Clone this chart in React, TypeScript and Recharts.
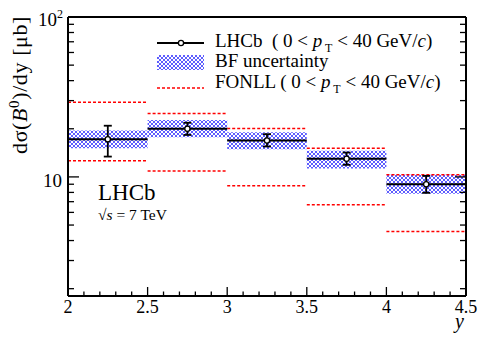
import React from "react";
import {
  ComposedChart,
  XAxis,
  YAxis,
  Scatter,
  ErrorBar,
  ReferenceLine,
  ReferenceArea,
} from "recharts";

// rapidity bins
const binLo = [2, 2.5, 3, 3.5, 4];
const binHi = [2.5, 3, 3.5, 4, 4.5];
const binMid = [2.25, 2.75, 3.25, 3.75, 4.25];

// LHCb measurement, total uncertainty range, BF uncertainty band, FONLL band (μb)
const lhcb = [17.2, 20.0, 16.9, 13.0, 9.0];
const totLo = [13.4, 18.3, 15.5, 11.9, 7.95];
const totHi = [20.9, 21.8, 18.5, 14.2, 10.15];
const bfLo = [15.1, 17.7, 14.9, 11.3, 7.85];
const bfHi = [19.5, 22.7, 19.0, 14.6, 10.3];
const fonllLo = [12.6, 10.9, 8.8, 6.7, 4.55];
const fonllHi = [29.3, 24.9, 20.1, 15.1, 10.3];

const xTicks = [
  2, 2.1, 2.2, 2.3, 2.4, 2.5, 2.6, 2.7, 2.8, 2.9, 3, 3.1, 3.2, 3.3, 3.4, 3.5,
  3.6, 3.7, 3.8, 3.9, 4, 4.1, 4.2, 4.3, 4.4, 4.5,
];
const xMajor = [2, 2.5, 3, 3.5, 4, 4.5];
const xLabels = ["2", "2.5", "3", "3.5", "4", "4.5"];
const yTicks = [2, 3, 4, 5, 6, 7, 8, 9, 10, 20, 30, 40, 50, 60, 70, 80, 90, 100];
const yMajor = [10, 100];

const W = 491;
const H = 352;
const M = { top: 16, right: 24, bottom: 26, left: 8 };
const FONT = "'Liberation Serif', 'Times New Roman', serif";

const points = binMid.map((x, i) => ({
  x,
  y: lhcb[i],
  err: [lhcb[i] - totLo[i], totHi[i] - lhcb[i]],
}));

const majorIdx = (v: number, list: number[]) =>
  list.findIndex((m) => Math.abs(m - v) < 1e-6);

function BottomTick({ x, y, payload }: any) {
  const k = majorIdx(payload.value, xMajor);
  const len = k >= 0 ? 9 : 4.5;
  return (
    <g>
      <line x1={x} x2={x} y1={y} y2={y - len} stroke="#000" strokeWidth={1.3} />
      {k >= 0 && (
        <text x={x} y={y + 17} textAnchor="middle" fontSize={18} fontFamily={FONT} fill="#000">
          {xLabels[k]}
        </text>
      )}
    </g>
  );
}

function TopTick({ x, y, payload }: any) {
  const k = majorIdx(payload.value, xMajor);
  const len = k >= 0 ? 9 : 4.5;
  return <line x1={x} x2={x} y1={y} y2={y + len} stroke="#000" strokeWidth={1.3} />;
}

function LeftTick({ x, y, payload }: any) {
  const v = payload.value;
  const major = majorIdx(v, yMajor) >= 0;
  return (
    <g>
      <line x1={x} x2={x + (major ? 11 : 6)} y1={y} y2={y} stroke="#000" strokeWidth={1.3} />
      {v === 10 && (
        <text x={62} y={y + 10} textAnchor="end" fontSize={19} fontFamily={FONT} fill="#000">
          10
        </text>
      )}
      {v === 100 && (
        <text x={63} y={y + 9} textAnchor="end" fontSize={19} fontFamily={FONT} fill="#000">
          10
          <tspan dy={-8} fontSize={12}>
            2
          </tspan>
        </text>
      )}
    </g>
  );
}

function RightTick({ x, y, payload }: any) {
  const major = majorIdx(payload.value, yMajor) >= 0;
  return <line x1={x} x2={x - (major ? 11 : 6)} y1={y} y2={y} stroke="#000" strokeWidth={1.3} />;
}

function Marker({ cx, cy }: any) {
  return <circle cx={cx} cy={cy} r={2.6} fill="#fff" stroke="#000" strokeWidth={1.3} />;
}

const axisLine = { stroke: "#000", strokeWidth: 2 };

export default function App() {
  return (
    <div style={{ position: "absolute", left: 0, top: 0, width: W, height: H, background: "#fff" }}>
      <ComposedChart width={W} height={H} margin={M}>
        <defs>
          <pattern id="bfHatch" width={4} height={4} patternUnits="userSpaceOnUse">
            <rect width={4} height={4} fill="#fff" />
            <path d="M0,0 L4,4 M4,0 L0,4" stroke="#4b4bff" strokeWidth={0.9} />
          </pattern>
        </defs>
        <XAxis
          type="number"
          dataKey="x"
          domain={[2, 4.5]}
          ticks={xTicks}
          interval={0}
          height={30}
          tickSize={0}
          tickMargin={0}
          tickLine={false}
          axisLine={axisLine}
          tick={(p: any) => <BottomTick {...p} />}
          allowDataOverflow
        />
        <XAxis
          xAxisId="t"
          orientation="top"
          type="number"
          domain={[2, 4.5]}
          ticks={xTicks}
          interval={0}
          height={1}
          tickSize={0}
          tickMargin={0}
          tickLine={false}
          axisLine={axisLine}
          tick={(p: any) => <TopTick {...p} />}
          allowDataOverflow
        />
        <YAxis
          type="number"
          dataKey="y"
          scale="log"
          domain={[1.8, 100]}
          ticks={yTicks}
          interval={0}
          width={60}
          tickSize={0}
          tickMargin={0}
          tickLine={false}
          axisLine={axisLine}
          tick={(p: any) => <LeftTick {...p} />}
          allowDataOverflow
        />
        <YAxis
          yAxisId="r"
          orientation="right"
          type="number"
          scale="log"
          domain={[1.8, 100]}
          ticks={yTicks}
          interval={0}
          width={1}
          tickSize={0}
          tickMargin={0}
          tickLine={false}
          axisLine={axisLine}
          tick={(p: any) => <RightTick {...p} />}
          allowDataOverflow
        />
        {binLo.map((lo, i) => (
          <ReferenceArea
            key={`bf${i}`}
            x1={lo}
            x2={binHi[i]}
            y1={bfLo[i]}
            y2={bfHi[i]}
            fill="url(#bfHatch)"
            fillOpacity={1}
            stroke="none"
          />
        ))}
        {binLo.map((lo, i) => (
          <ReferenceLine
            key={`fh${i}`}
            segment={[{ x: lo, y: fonllHi[i] }, { x: binHi[i], y: fonllHi[i] }]}
            stroke="#ff0000"
            strokeWidth={1.5}
            strokeDasharray="3 2"
          />
        ))}
        {binLo.map((lo, i) => (
          <ReferenceLine
            key={`fl${i}`}
            segment={[{ x: lo, y: fonllLo[i] }, { x: binHi[i], y: fonllLo[i] }]}
            stroke="#ff0000"
            strokeWidth={1.5}
            strokeDasharray="3 2"
          />
        ))}
        {binLo.map((lo, i) => (
          <ReferenceLine
            key={`c${i}`}
            segment={[{ x: lo, y: lhcb[i] }, { x: binHi[i], y: lhcb[i] }]}
            stroke="#000"
            strokeWidth={2}
          />
        ))}
        <Scatter data={points} dataKey="y" shape={<Marker />} isAnimationActive={false}>
          <ErrorBar dataKey="err" direction="y" width={4} stroke="#000" strokeWidth={1.8} />
        </Scatter>
      </ComposedChart>
      <svg
        width={W}
        height={H}
        style={{ position: "absolute", left: 0, top: 0, pointerEvents: "none" }}
        fontFamily={FONT}
      >
        <text
          transform="translate(27,16) rotate(-90)"
          textAnchor="end"
          fontSize={22}
          letterSpacing={0.6}
          fill="#000"
        >
          dσ(<tspan fontStyle="italic">B</tspan>
          <tspan dy={-8} fontSize={15}>0</tspan>
          <tspan dy={8}>)/dy [μb]</tspan>
        </text>
        <text x={464} y={328} textAnchor="end" fontSize={20} fontStyle="italic" fill="#000">
          y
        </text>

        <text x={98} y={200} fontSize={23} fill="#000">LHCb</text>
        <text x={98} y={220} fontSize={15.5} fill="#000">
          √<tspan fontStyle="italic">s</tspan> = 7 TeV
        </text>

        <line x1={157} x2={204} y1={43} y2={43} stroke="#000" strokeWidth={1.8} />
        <circle cx={181} cy={43} r={2.6} fill="#fff" stroke="#000" strokeWidth={1.3} />
        <text x={215} y={47} fontSize={19} fill="#000" xmlSpace="preserve">
          LHCb  ( 0 &lt; <tspan fontStyle="italic">p</tspan>
          <tspan dy={5} fontSize={12}> T</tspan>
          <tspan dy={-5}> &lt; 40 GeV/</tspan>
          <tspan fontStyle="italic">c</tspan>)
        </text>
        <rect x={157} y={55} width={47} height={15} fill="url(#bfHatch)" />
        <text x={215} y={67} fontSize={19} fill="#000">BF uncertainty</text>
        <line x1={157} x2={204} y1={88} y2={88} stroke="#ff0000" strokeWidth={1.5} strokeDasharray="3 2" />
        <text x={215} y={88} fontSize={19} fill="#000" xmlSpace="preserve">
          FONLL ( 0 &lt; <tspan fontStyle="italic">p</tspan>
          <tspan dy={5} fontSize={12}> T</tspan>
          <tspan dy={-5}> &lt; 40 GeV/</tspan>
          <tspan fontStyle="italic">c</tspan>)
        </text>
      </svg>
    </div>
  );
}
